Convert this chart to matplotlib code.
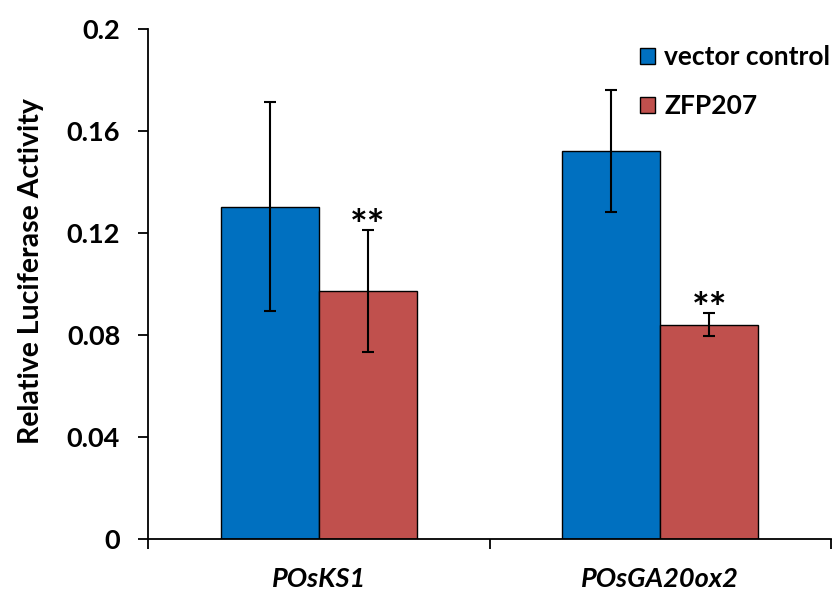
import numpy as np
import matplotlib.pyplot as plt

# promoter constructs and luciferase readings
promoters = ["POsKS1", "POsGA20ox2"]
vector_mean = [0.1303, 0.1523]
vector_err = [0.0410, 0.0238]
zfp_mean = [0.0973, 0.0840]
zfp_err = [0.0240, 0.0045]
zfp_sig = ["**", "**"]
yticks = [0, 0.04, 0.08, 0.12, 0.16, 0.2]
ytick_labels = ["0", "0.04", "0.08", "0.12", "0.16", "0.2"]

BLUE = "#0070C0"
RED = "#C0504D"

plt.rcParams["font.family"] = ["Lato", "DejaVu Sans"]
plt.rcParams["font.weight"] = "bold"
plt.rcParams["axes.labelweight"] = "bold"

fig = plt.figure(figsize=(8.32, 5.93), dpi=100)
ax = fig.add_axes([0.1779, 0.0911, 0.8209, 0.8595])

x = np.arange(len(promoters))
w = 0.287

err_kw = dict(ecolor="black", elinewidth=1.5, capsize=4.3, capthick=1.5)
ax.bar(x - w / 2, vector_mean, w, yerr=vector_err, color=BLUE,
       edgecolor="black", linewidth=1.0, error_kw=err_kw, label="vector control")
ax.bar(x + w / 2, zfp_mean, w, yerr=zfp_err, color=RED,
       edgecolor="black", linewidth=1.0, error_kw=err_kw, label="ZFP207")

# significance marks above the ZFP207 bars
for xi, m, e, s in zip(x, zfp_mean, zfp_err, zfp_sig):
    ax.annotate(s, (xi + w / 2, m + e), xytext=(0, -12), textcoords="offset points",
                ha="center", va="bottom", fontsize=30, fontweight="bold")

ax.set_xlim(-0.5, 1.5)
ax.set_ylim(0, 0.2)
ax.set_yticks(yticks)
ax.set_yticklabels(ytick_labels, fontweight="bold")
ax.set_xticks([-0.5, 0.5, 1.5])
ax.set_xticklabels([])
ax.set_xticks(x, minor=True)
ax.set_xticklabels(promoters, minor=True, fontstyle="italic", fontweight="bold",
                   fontsize=19.5)
ax.tick_params(axis="x", which="minor", length=0, pad=20)
ax.tick_params(axis="x", which="major", length=7, width=1.3, direction="out")
ax.tick_params(axis="y", length=7, width=1.3, direction="out", labelsize=19.5, pad=13)

for side in ["top", "right"]:
    ax.spines[side].set_visible(False)
for side in ["left", "bottom"]:
    ax.spines[side].set_linewidth(1.3)

ax.set_ylabel("Relative Luciferase Activity", fontsize=20.5, fontweight="bold")
ax.yaxis.set_label_coords(-0.153, 0.525)

ax.legend(loc="upper right", bbox_to_anchor=(1.022, 1.0), frameon=False,
          prop=dict(size=19, weight="bold"), handlelength=0.58, handleheight=0.58,
          handletextpad=0.35, labelspacing=0.95, borderaxespad=0.2)

fig.savefig("out.png", dpi=100)
